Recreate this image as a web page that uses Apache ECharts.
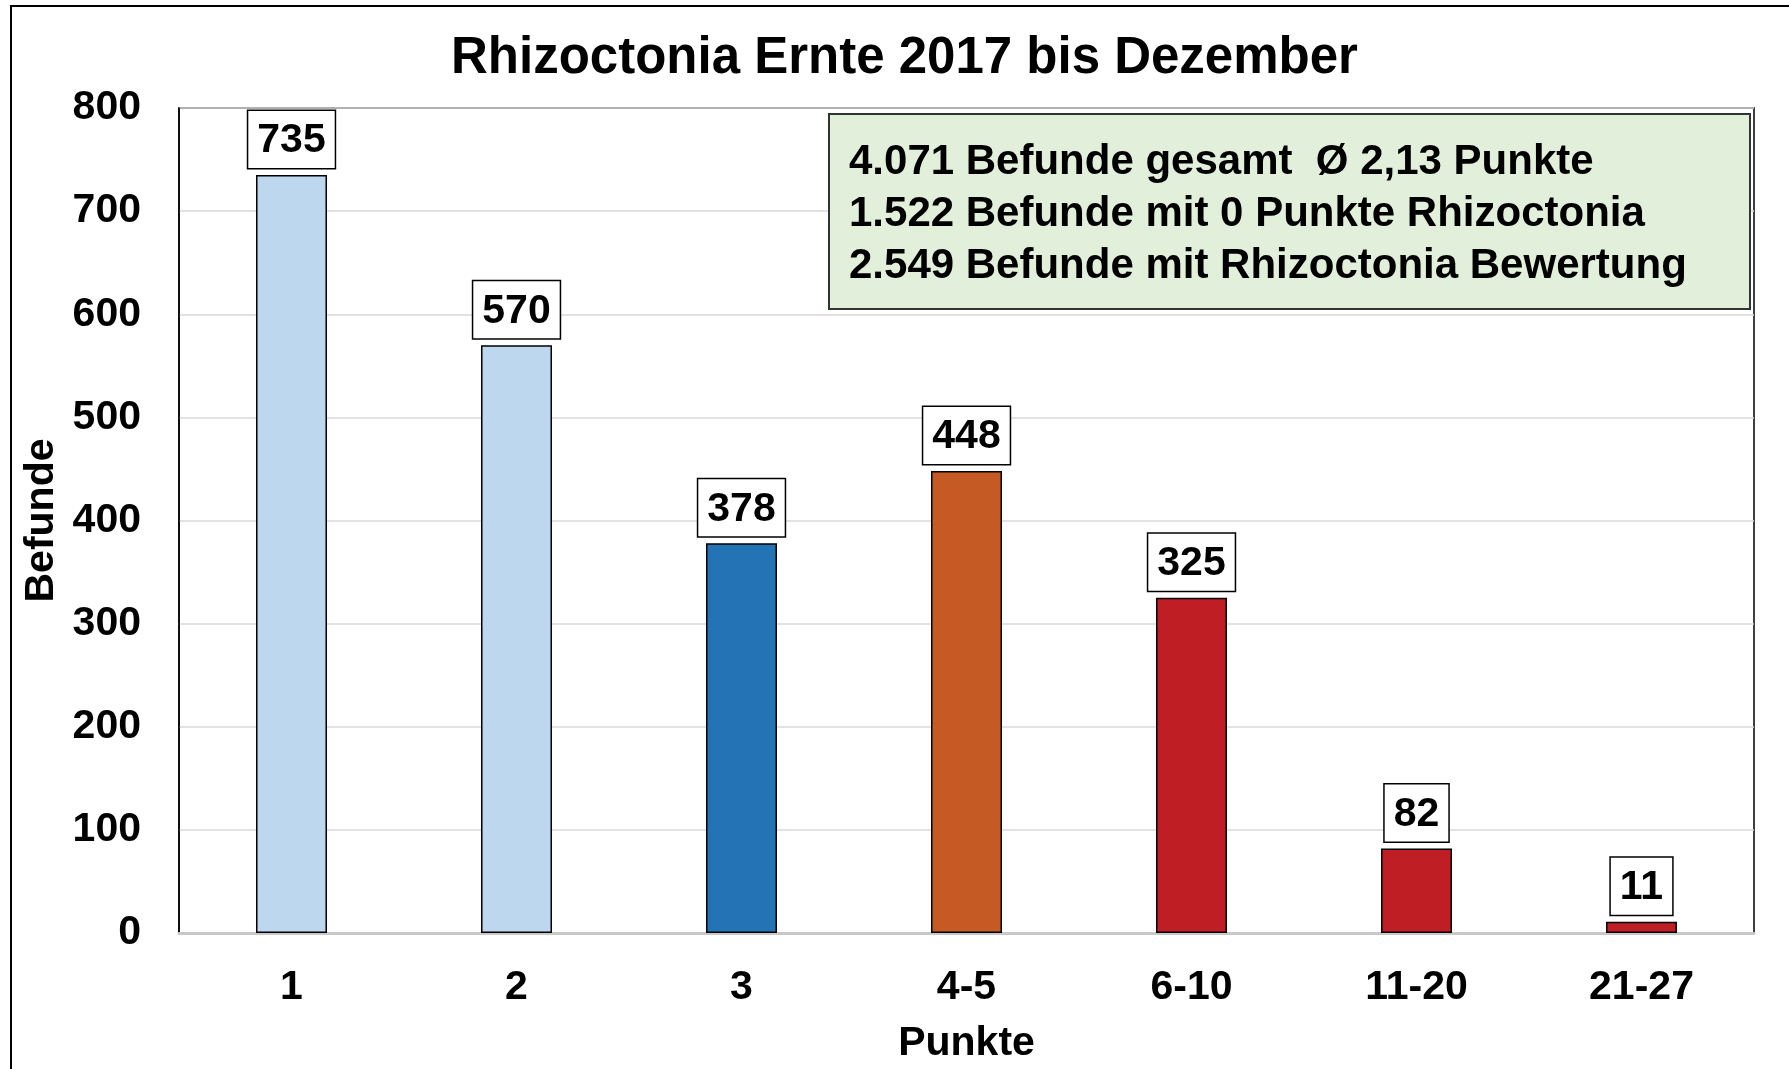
<!DOCTYPE html>
<html>
<head>
<meta charset="utf-8">
<script src="https://cdn.jsdelivr.net/npm/echarts@6/dist/echarts.min.js"></script>
<style>
  html, body { margin: 0; padding: 0; background: #fff; }
  #chart { width: 1789px; height: 1069px; }
</style>
</head>
<body>
<div id="chart"></div>
<script>
// Daten
const categories = ['1', '2', '3', '4-5', '6-10', '11-20', '21-27'];
const befunde = [735, 570, 378, 448, 325, 82, 11];
const barColors = ['#BDD7EE', '#BDD7EE', '#2373B5', '#C55A24', '#BE1E24', '#BE1E24', '#BE1E24'];
const infoLines = [
  '4.071 Befunde gesamt  Ø 2,13 Punkte',
  '1.522 Befunde mit 0 Punkte Rhizoctonia',
  '2.549 Befunde mit Rhizoctonia Bewertung'
];

const FONT = '"Liberation Sans", Arial, Helvetica, sans-serif';

const chart = echarts.init(document.getElementById('chart'), null, { renderer: 'canvas' });

chart.setOption({
  backgroundColor: '#fff',
  animation: false,
  title: {
    text: 'Rhizoctonia Ernte 2017 bis Dezember',
    left: 451,
    top: 33,
    padding: 0,
    textStyle: { fontFamily: FONT, fontSize: 51, fontWeight: 'bold', color: '#000' }
  },
  grid: {
    left: 179,
    right: 35,
    top: 108,
    bottom: 136,
    show: true,
    borderColor: '#000',
    borderWidth: 1.5
  },
  xAxis: {
    type: 'category',
    data: categories,
    name: 'Punkte',
    nameLocation: 'middle',
    nameGap: 90,
    nameTextStyle: { fontFamily: FONT, fontSize: 41, fontWeight: 'bold', color: '#000' },
    axisLine: { lineStyle: { color: '#C8C8C8', width: 3 } },
    axisTick: { show: false },
    axisLabel: { margin: 34, fontFamily: FONT, fontSize: 41, fontWeight: 'bold', color: '#000' }
  },
  yAxis: {
    type: 'value',
    min: 0,
    max: 800,
    interval: 100,
    name: 'Befunde',
    nameLocation: 'middle',
    nameGap: 117,
    nameRotate: 90,
    nameTextStyle: { fontFamily: FONT, fontSize: 41, fontWeight: 'bold', color: '#000' },
    axisLine: { show: true, lineStyle: { color: '#000', width: 1.5 } },
    axisTick: { show: false },
    axisLabel: { margin: 38, fontFamily: FONT, fontSize: 41, fontWeight: 'bold', color: '#000' },
    splitLine: { lineStyle: { color: '#D9D9D9', width: 1.5 } }
  },
  series: [{
    type: 'bar',
    barWidth: 71,
    data: befunde.map((v, i) => ({ value: v, itemStyle: { color: barColors[i] } })),
    itemStyle: { borderColor: '#000', borderWidth: 1.5 },
    label: {
      show: true,
      position: 'top',
      distance: 7,
      fontFamily: FONT,
      fontSize: 41,
      fontWeight: 'bold',
      color: '#000',
      lineHeight: 44,
      backgroundColor: '#fff',
      borderColor: '#000',
      borderWidth: 1.5,
      padding: [8, 9, 5, 9]
    }
  }],
  graphic: [
    {
      // äußerer Rahmen
      type: 'rect',
      z: 100,
      shape: { x: 11, y: 6, width: 1800, height: 1100 },
      style: { fill: 'none', stroke: '#000', lineWidth: 2 },
      silent: true
    },
    {
      type: 'group',
      left: 828,
      top: 113,
      z: 100,
      children: [
        {
          type: 'rect',
          z: 100,
          shape: { x: 0, y: 0, width: 921, height: 195 },
          style: { fill: '#E2EFDA', stroke: '#333', lineWidth: 2 }
        },
        {
          type: 'text',
          z: 101,
          x: 20,
          y: 22,
          style: {
            text: infoLines.join('\n'),
            font: 'bold 42px ' + FONT,
            lineHeight: 52,
            fill: '#000'
          }
        }
      ]
    }
  ]
});
</script>
</body>
</html>
